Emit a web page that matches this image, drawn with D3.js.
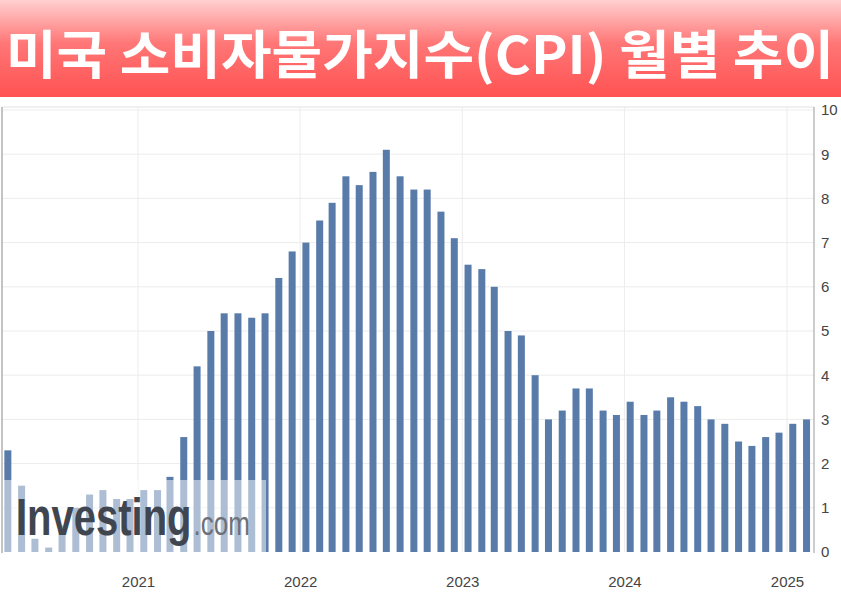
<!DOCTYPE html>
<html><head><meta charset="utf-8">
<script src="https://cdn.jsdelivr.net/npm/d3@7/dist/d3.min.js"></script>
<style>html,body{margin:0;padding:0;background:#fff;overflow:hidden}svg{display:block}</style>
</head><body>
<script>
// ---- data ----
const months = ["2020-02","2020-03","2020-04","2020-05","2020-06","2020-07","2020-08","2020-09","2020-10","2020-11","2020-12",
"2021-01","2021-02","2021-03","2021-04","2021-05","2021-06","2021-07","2021-08","2021-09","2021-10","2021-11","2021-12",
"2022-01","2022-02","2022-03","2022-04","2022-05","2022-06","2022-07","2022-08","2022-09","2022-10","2022-11","2022-12",
"2023-01","2023-02","2023-03","2023-04","2023-05","2023-06","2023-07","2023-08","2023-09","2023-10","2023-11","2023-12",
"2024-01","2024-02","2024-03","2024-04","2024-05","2024-06","2024-07","2024-08","2024-09","2024-10","2024-11","2024-12",
"2025-01"];
const cpi = [2.3,1.5,0.3,0.1,0.6,1.0,1.3,1.4,1.2,1.2,1.4,
1.4,1.7,2.6,4.2,5.0,5.4,5.4,5.3,5.4,6.2,6.8,7.0,
7.5,7.9,8.5,8.3,8.6,9.1,8.5,8.2,8.2,7.7,7.1,6.5,
6.4,6.0,5.0,4.9,4.0,3.0,3.2,3.7,3.7,3.2,3.1,3.4,
3.1,3.2,3.5,3.4,3.3,3.0,2.9,2.5,2.4,2.6,2.7,2.9,
3.0];
const yearTicks = [2021,2022,2023,2024,2025];
const yTicks = [0,1,2,3,4,5,6,7,8,9,10];
const title = "미국 소비자물가지수(CPI) 월별 추이";

const W = 841, H = 595;
const svg = d3.select("body").append("svg").attr("width", W).attr("height", H);

// ---- title banner ----
const defs = svg.append("defs");
const g1 = defs.append("linearGradient").attr("id","ban").attr("x1",0).attr("y1",0).attr("x2",0).attr("y2",1);
g1.append("stop").attr("offset","0%").attr("stop-color","#ffd0d0");
g1.append("stop").attr("offset","45%").attr("stop-color","#ff7676");
g1.append("stop").attr("offset","100%").attr("stop-color","#ff5252");
svg.append("rect").attr("x",0).attr("y",0).attr("width",W).attr("height",97).attr("fill","url(#ban)");
svg.append("text").attr("x",6).attr("y",74)
  .attr("textLength",828).attr("lengthAdjust","spacingAndGlyphs")
  .style("font-family","'Noto Sans CJK KR'").style("font-weight",700).style("font-size","52px")
  .attr("fill","#fff").text(title);

// ---- scales ----
const parse = d3.timeParse("%Y-%m");
const release = m => { const d = parse(m); return new Date(d.getFullYear(), d.getMonth()+1, 14); };
const x = d3.scaleTime().domain([new Date(2021,0,1), new Date(2025,0,1)]).range([138, 787]);
const y = d3.scaleLinear().domain([0,10]).range([552,110]);
const plotL = 2, plotR = 814, plotT = 107;

// gridlines
svg.append("g").selectAll("line").data(yTicks.filter(d=>d>0)).join("line")
  .attr("x1",plotL).attr("x2",plotR).attr("y1",d=>y(d)).attr("y2",d=>y(d))
  .attr("stroke","#ececec").attr("stroke-width",1);
svg.append("g").selectAll("line").data(yearTicks).join("line")
  .attr("x1",d=>x(new Date(d,0,1))).attr("x2",d=>x(new Date(d,0,1)))
  .attr("y1",plotT).attr("y2",552).attr("stroke","#ececec").attr("stroke-width",1);
svg.append("line").attr("x1",plotL).attr("x2",plotR).attr("y1",plotT).attr("y2",plotT).attr("stroke","#e2e2e2");
svg.append("line").attr("x1",plotL).attr("x2",plotL).attr("y1",plotT).attr("y2",553).attr("stroke","#b0b0b0").attr("stroke-width",1.5);

// bars
const bw = 7;
svg.append("g").selectAll("rect").data(months).join("rect")
  .attr("x",(m)=>x(release(m))-bw/2).attr("width",bw)
  .attr("y",(m,i)=>y(cpi[i])).attr("height",(m,i)=>y(0)-y(cpi[i]))
  .attr("fill","#587ba9");

// y axis (right)
const yAxis = d3.axisRight(y).tickValues(yTicks).tickSize(0).tickPadding(7).tickFormat(d3.format("d"));
const ya = svg.append("g").attr("transform",`translate(${plotR},0)`).call(yAxis);
ya.select(".domain").attr("stroke","#9a9a9a").attr("d",`M0,${plotT}V553`);
ya.selectAll("text").style("font-family","'Liberation Sans', Arial, sans-serif").style("font-size","15px").attr("fill","#444");

// x axis
const xAxis = d3.axisBottom(x).tickValues(yearTicks.map(d=>new Date(d,0,1))).tickSize(0).tickPadding(24).tickFormat(d3.timeFormat("%Y"));
const xa = svg.append("g").attr("transform","translate(0,552)").call(xAxis);
xa.select(".domain").remove();
xa.selectAll("text").style("font-family","'Liberation Sans', Arial, sans-serif").style("font-size","15px").attr("fill","#444");

// watermark
svg.append("rect").attr("x",3).attr("y",480).attr("width",263).attr("height",72).attr("fill","#fff").attr("opacity",0.5);
const wm = svg.append("text").attr("transform","translate(16,535) scale(1,1.3)")
  .style("font-family","'Liberation Sans', Arial, sans-serif");
wm.append("tspan").style("font-weight",700).style("font-size","40px").attr("fill","#3f4650").text("Investing");
wm.append("tspan").attr("dx",2).style("font-weight",400).style("font-size","26px").attr("fill","#6c7078").text(".com");
</script>
</body></html>
